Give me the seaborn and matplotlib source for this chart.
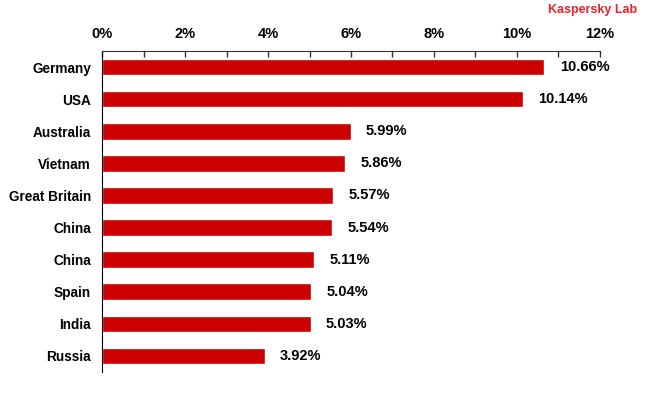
import matplotlib
matplotlib.use("Agg")
import matplotlib.pyplot as plt
from matplotlib.ticker import MultipleLocator, FuncFormatter, FixedLocator
import seaborn as sns
import pandas as pd

countries = ["Germany", "USA", "Australia", "Vietnam", "Great Britain",
             "China", "China", "Spain", "India", "Russia"]
shares = [10.66, 10.14, 5.99, 5.86, 5.57, 5.54, 5.11, 5.04, 5.03, 3.92]

df = pd.DataFrame({"pos": range(len(countries)), "share": shares})

sns.set_style("white")
plt.rcParams["font.family"] = ["Liberation Sans", "DejaVu Sans"]
plt.rcParams["font.weight"] = "bold"
plt.rcParams["text.color"] = "black"
plt.rcParams["xtick.labelcolor"] = "black"
plt.rcParams["ytick.labelcolor"] = "black"

fig = plt.figure(figsize=(6.5, 4), dpi=100)
ax = fig.add_axes([0.157, 0.07, 0.766, 0.8025])

sns.barplot(data=df, x="share", y="pos", orient="h", color="#cc0000",
            saturation=1, width=0.52, ax=ax)

ax.set_xlim(0, 12)
ax.set_ylim(len(countries) - 0.5, -0.5)
ax.set_xlabel("")
ax.set_ylabel("")

# x axis on top
ax.xaxis.set_ticks_position("top")
ax.xaxis.set_label_position("top")
ax.xaxis.set_major_locator(MultipleLocator(2))
ax.xaxis.set_minor_locator(MultipleLocator(1))
ax.xaxis.set_major_formatter(FuncFormatter(lambda v, p: "{:.0f}%".format(v)))
ax.tick_params(axis="x", which="both", direction="in", length=4, width=1,
               color="#333333", labelsize=10.5, pad=7)

# y ticks: labels at centres, long ticks at boundaries
ax.set_yticks(range(len(countries)))
ax.set_yticklabels(countries)
ax.yaxis.set_minor_locator(FixedLocator([i - 0.5 for i in range(len(countries) + 1)]))
ax.tick_params(axis="y", which="major", direction="out", length=3, width=1,
               color="#333333", labelsize=9.8, pad=5)
ax.tick_params(axis="y", which="minor", direction="out", length=7, width=1,
               color="#333333")

for side in ["right", "bottom"]:
    ax.spines[side].set_visible(False)
ax.spines["top"].set_color("#333333")
ax.spines["left"].set_color("#000000")

for c in ax.containers:
    ax.bar_label(c, labels=["{:.2f}%".format(v) for v in shares],
                 padding=11, fontsize=10.5, fontweight="bold", color="black")

fig.text(0.98, 0.99, "Kaspersky Lab", color="#e8232a", fontsize=9,
         fontweight="bold", ha="right", va="top")

fig.savefig("out.png", dpi=100)
